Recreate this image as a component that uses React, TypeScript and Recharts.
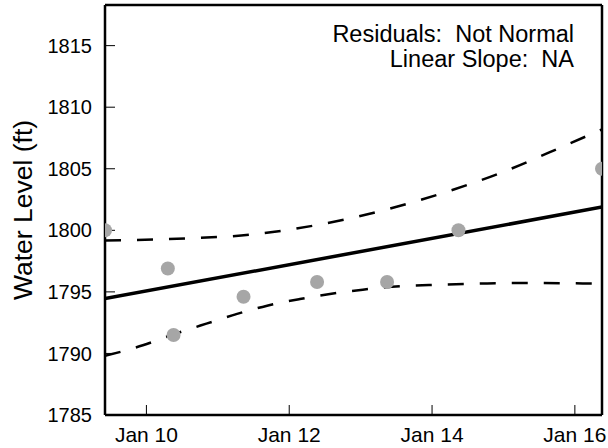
import React from 'react';
import {
  ComposedChart,
  Line,
  Scatter,
  XAxis,
  YAxis,
} from 'recharts';

// observed water levels (day of January, ft)
const obsDays = [9.42, 10.3, 10.38, 11.36, 12.39, 13.37, 14.37, 16.38];
const obsLevels = [1800.0, 1796.9, 1791.5, 1794.6, 1795.8, 1795.8, 1800.0, 1805.0];

// linear fit
const fitDays = [9.42, 16.38];
const fitLevels = [1794.45, 1801.89];

// confidence band
const upperDays = [9.42, 10.56, 11.45, 12.33, 13.17, 14.07, 14.95, 15.83, 16.38];
const upperLevels = [1799.18, 1799.34, 1799.64, 1800.37, 1801.4, 1802.88, 1804.64, 1806.8, 1808.2];
const lowerDays = [9.42, 9.95, 10.37, 10.84, 11.27, 11.69, 12.15, 12.57, 13.03, 13.55, 14.11, 14.77, 15.41, 16.11, 16.38];
const lowerLevels = [1789.8, 1790.66, 1791.53, 1792.42, 1793.21, 1793.88, 1794.42, 1794.83, 1795.18, 1795.45, 1795.58, 1795.69, 1795.72, 1795.69, 1795.68];

const dayTicks = [10, 12, 14, 16];
const levelTicks = [1785, 1790, 1795, 1800, 1805, 1810, 1815];
const levelMax = 1818.3;

const annotations = ['Residuals:  Not Normal', 'Linear Slope:  NA'];

const FONT = '"Liberation Sans", Arial, Helvetica, sans-serif';

const toRows = (days: number[], levels: number[]) =>
  days.map((day, i) => ({ day, level: levels[i] }));

const obsData = toRows(obsDays, obsLevels);
const fitData = toRows(fitDays, fitLevels);
const upperData = toRows(upperDays, upperLevels);
const lowerData = toRows(lowerDays, lowerLevels);

const dayDomain = [Math.min(...obsDays), Math.max(...obsDays)];

const Dot = (props: any) => (
  <circle cx={props.cx} cy={props.cy} r={7} fill="#a6a6a6" />
);

export default function App() {
  return (
    <div style={{ position: 'absolute', left: 0, top: 0, width: 608, height: 448, background: '#fff' }}>
      <ComposedChart width={608} height={448} margin={{ top: 0, right: 0, bottom: 0, left: 0 }}>
        <XAxis
          xAxisId="bottom"
          dataKey="day"
          type="number"
          domain={dayDomain}
          allowDataOverflow
          ticks={dayTicks}
          tickFormatter={(v) => `Jan ${v}`}
          height={33}
          tickSize={-10}
          tickMargin={22}
          axisLine={{ stroke: '#000', strokeWidth: 2.5 }}
          tickLine={{ stroke: '#000', strokeWidth: 1 }}
          tick={{ fill: '#000', fontSize: 21, fontFamily: FONT }}
        />
        <XAxis
          xAxisId="top"
          orientation="top"
          dataKey="day"
          type="number"
          domain={dayDomain}
          allowDataOverflow
          ticks={dayTicks}
          height={5}
          tickSize={-10}
          tick={false}
          axisLine={{ stroke: '#000', strokeWidth: 2.5 }}
          tickLine={{ stroke: '#000', strokeWidth: 1 }}
        />
        <YAxis
          yAxisId="left"
          type="number"
          domain={[1785, levelMax]}
          allowDataOverflow
          ticks={levelTicks}
          width={105}
          tickSize={-10}
          tickMargin={23}
          axisLine={{ stroke: '#000', strokeWidth: 2.5 }}
          tickLine={{ stroke: '#000', strokeWidth: 1 }}
          tick={{ fill: '#000', fontSize: 20, fontFamily: FONT }}
          label={{
            value: 'Water Level (ft)',
            angle: -90,
            position: 'insideLeft',
            offset: 23,
            style: { textAnchor: 'middle', fill: '#000', fontSize: 26.5, fontFamily: FONT },
          }}
        />
        <YAxis
          yAxisId="right"
          orientation="right"
          type="number"
          domain={[1785, levelMax]}
          allowDataOverflow
          ticks={levelTicks}
          width={6}
          tickSize={-10}
          tick={false}
          axisLine={{ stroke: '#000', strokeWidth: 2.5 }}
          tickLine={{ stroke: '#000', strokeWidth: 1 }}
        />
        <Scatter
          xAxisId="bottom"
          yAxisId="left"
          data={obsData}
          dataKey="level"
          shape={Dot}
          isAnimationActive={false}
        />
        <Line
          xAxisId="bottom"
          yAxisId="left"
          data={upperData}
          dataKey="level"
          type="monotone"
          stroke="#000"
          strokeWidth={2.5}
          strokeDasharray="16 16"
          dot={false}
          activeDot={false}
          isAnimationActive={false}
        />
        <Line
          xAxisId="bottom"
          yAxisId="left"
          data={lowerData}
          dataKey="level"
          type="monotone"
          stroke="#000"
          strokeWidth={2.5}
          strokeDasharray="16 16"
          dot={false}
          activeDot={false}
          isAnimationActive={false}
        />
        <Line
          xAxisId="bottom"
          yAxisId="left"
          data={fitData}
          dataKey="level"
          type="linear"
          stroke="#000"
          strokeWidth={3.5}
          dot={false}
          activeDot={false}
          isAnimationActive={false}
        />
      </ComposedChart>
      <svg
        width={608}
        height={448}
        style={{ position: 'absolute', left: 0, top: 0, pointerEvents: 'none' }}
      >
        {annotations.map((t, i) => (
          <text
            key={t}
            x={574}
            y={42 + i * 25}
            textAnchor="end"
            fontSize={23.5}
            fontFamily={FONT}
            fill="#000"
            style={{ whiteSpace: 'pre' }}
          >
            {t}
          </text>
        ))}
      </svg>
    </div>
  );
}
